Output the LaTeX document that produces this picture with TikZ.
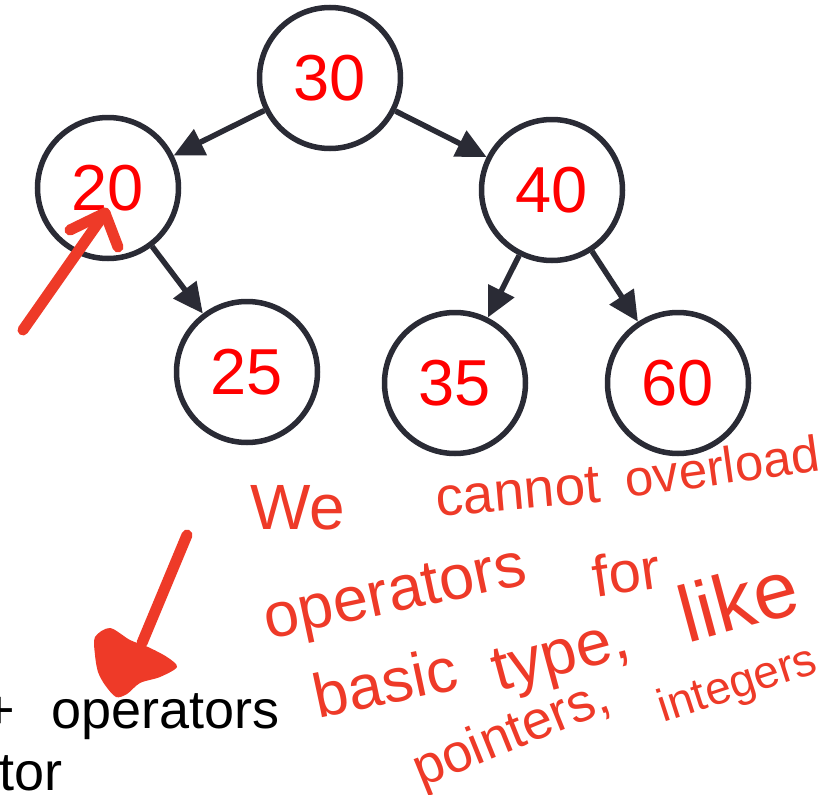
\documentclass[tikz,border=0pt]{standalone}
\usepackage{fontspec}
\setmainfont{Liberation Sans}
\usepackage{xcolor}
\definecolor{treeDark}{HTML}{2A2B35}
\definecolor{treeKey}{HTML}{FF0000}
\definecolor{penRed}{HTML}{EE3A28}
\usetikzlibrary{arrows.meta,positioning}
\tikzset{
    keynode/.style={
        draw=treeDark,
        circle,
        line width=5.5pt,
        minimum size=141pt,
        inner sep=0pt,
        text=treeKey,
        font=\fontsize{65}{65}\selectfont
    },
    arrow/.style={
        -{Triangle[length=30pt,width=28pt]},
        line width=5.5pt,
        color=treeDark
    },
    penstroke/.style={
        draw=penRed,
        line width=11pt,
        line cap=round,
        line join=round
    },
    hand/.style={
        text=penRed,
        inner sep=0pt,
        font=\fontsize{58}{58}\selectfont
    },
    plaintext/.style={
        text=black,
        inner sep=0pt,
        font=\fontsize{54}{54}\selectfont
    }
}

\begin{document}
\begin{tikzpicture}[x=1pt, y=-1pt, on grid]
    \useasboundingbox (0,0) rectangle (828,795);
    \clip (0,0) rectangle (828,795);

    % The tree
    \node[keynode] (n30) at (330,78) {30};
    \node[keynode, below left=110pt and 222pt of n30] (n20) {20};
    \node[keynode, below right=112pt and 222pt of n30] (n40) {40};
    \node[keynode, below right=184pt and 139pt of n20] (n25) {25};
    \node[keynode, below left=193pt and 97pt of n40] (n35) {35};
    \node[keynode, below right=193pt and 126pt of n40] (n60) {60};

    % Links
    \foreach \src/\dst in {n30/n20, n30/n40, n20/n25, n40/n35, n40/n60} {
        \draw[arrow] (\src) -- (\dst);
    }

    % Slide text, cut at the left edge
    \node[plaintext, anchor=base east] (ops) at (280,728) {+\hspace{37pt}operators};
    \node[plaintext, anchor=base west] (tor) at (-1,790) {tor};

    % Pen marks
    \draw[penstroke] (23,330) -- (105,213);
    \draw[penstroke] (70,230) -- (105,213) -- (118,247);
    \draw[penstroke] (187,535) -- (142,643);
    \fill[penRed] plot[smooth cycle] coordinates {
        (95,637) (110,628) (130,640) (148,647) (167,657) (177,667)
        (160,677) (140,683) (127,694) (116,697) (105,685) (98,672) (95,655)};

    % Handwritten note
    \node[hand, font=\fontsize{64}{64}\selectfont] (we) at (298,508) {We};
    \node[hand, font=\fontsize{55}{55}\selectfont, rotate=5] (cannot) at (518,492) {cannot};
    \node[hand, font=\fontsize{51}{51}\selectfont, rotate=8] (overload) at (722,466) {overload};
    \node[hand, font=\fontsize{63}{63}\selectfont, rotate=12] (operators) at (396,598) {operators};
    \node[hand, rotate=8] (for) at (626,572) {for};
    \node[hand, font=\fontsize{62}{62}\selectfont, rotate=12] (basic) at (385,682) {basic};
    \node[hand, font=\fontsize{64}{64}\selectfont, rotate=15] (type) at (562,660) {type,};
    \node[hand, font=\fontsize{80}{80}\selectfont, rotate=15] (like) at (738,600) {like};
    \node[hand, font=\fontsize{54}{54}\selectfont, rotate=22] (pointers) at (512,736) {pointers,};
    \node[hand, font=\fontsize{46}{46}\selectfont, rotate=18] (integers) at (738,686) {integers};
\end{tikzpicture}
\end{document}
